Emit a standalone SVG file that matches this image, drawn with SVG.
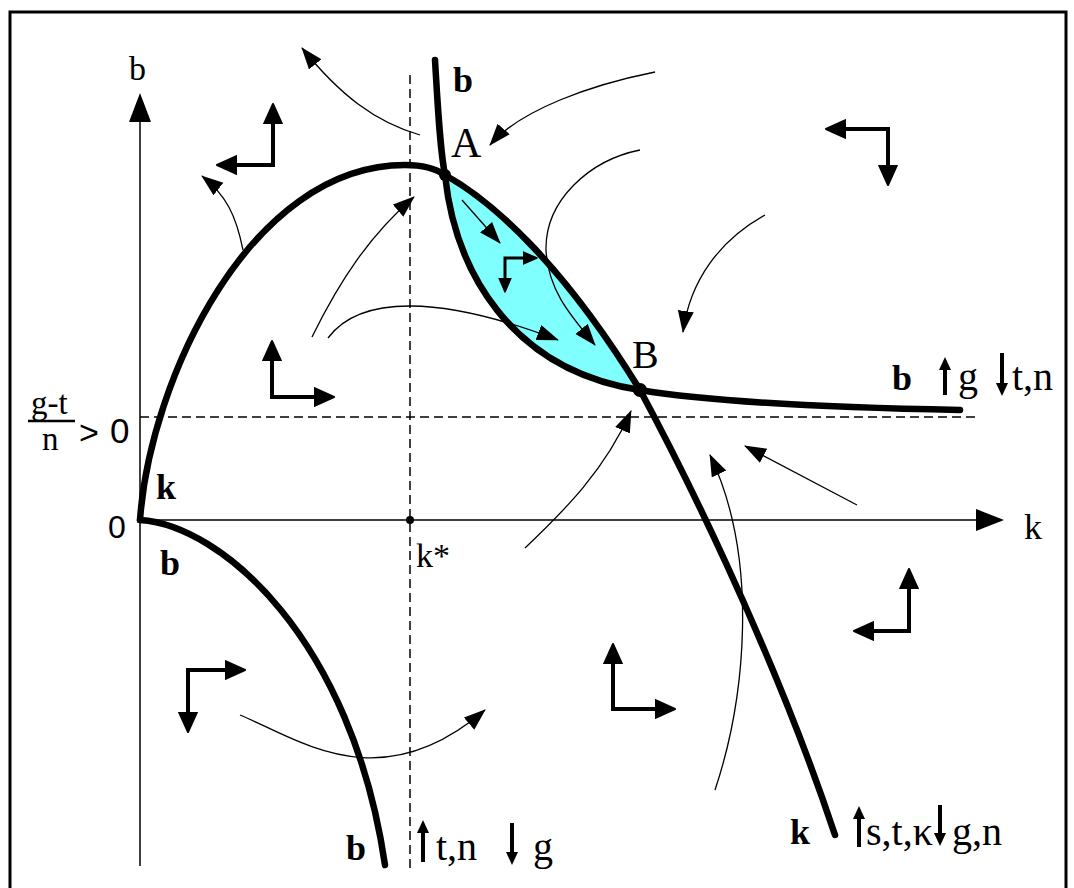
<svg xmlns="http://www.w3.org/2000/svg" width="1074" height="888" viewBox="0 0 1074 888">
<style>
.thick{fill:none;stroke:#000;stroke-width:6.5;stroke-linecap:round;stroke-linejoin:round}
.thin{fill:none;stroke:#000;stroke-width:1.3;marker-end:url(#ah)}
.step{fill:none;stroke:#000;stroke-width:4;stroke-linejoin:miter;marker-start:url(#sh);marker-end:url(#sh)}
.dash{fill:none;stroke:#000;stroke-width:1.5;stroke-dasharray:9 5}
.axis{fill:none;stroke:#000;stroke-width:1.5}
.la{fill:none;stroke:#000;stroke-width:4;marker-end:url(#lh)}
text{fill:#000}
</style>
<defs>
<marker id="ah" markerUnits="userSpaceOnUse" markerWidth="26" markerHeight="20" refX="21" refY="8" orient="auto"><path d="M0,0 L22,8 L0,16 Z" fill="#000"/></marker>
<marker id="sh" markerUnits="userSpaceOnUse" markerWidth="26" markerHeight="22" refX="1" refY="10" orient="auto-start-reverse"><path d="M0,1 L20,10 L0,19 Z" fill="#000" stroke="#000" stroke-width="2" stroke-linejoin="round"/></marker>
<marker id="sh2" markerUnits="userSpaceOnUse" markerWidth="20" markerHeight="18" refX="1" refY="7" orient="auto-start-reverse"><path d="M0,1 L14,7 L0,13 Z" fill="#000" stroke="#000" stroke-width="1.5" stroke-linejoin="round"/></marker>
<marker id="lh" markerUnits="userSpaceOnUse" markerWidth="16" markerHeight="16" refX="1" refY="6" orient="auto"><path d="M0,0 L13,6 L0,12 Z" fill="#000"/></marker>
</defs>
<rect x="10" y="12" width="1056" height="890" fill="#fff" stroke="#000" stroke-width="3"/>

<g id="axes">
<line class="axis" x1="140" y1="118" x2="140" y2="866"/>
<path d="M140,93 L129,122 L151,122 Z" fill="#000"/>
<line class="axis" x1="140" y1="520" x2="980" y2="520"/>
<path d="M1004,520 L976,509 L976,531 Z" fill="#000"/>
<line class="dash" x1="410" y1="75" x2="410" y2="872"/>
<line class="dash" x1="140" y1="417" x2="976" y2="417"/>
<circle cx="410" cy="520" r="4" fill="#000"/>
</g>

<g id="region">
<path d="M445,175 C490,200 560,260 640,390 C510,370 455,270 445,175 Z" fill="#80ffff"/>
</g>

<g id="curves">
<path class="thick" d="M140,520 C150,380 250,165 405,165 C420,165 435,168 445,175 C490,200 560,260 640,390 C675,455 770,640 835,835"/>
<path class="thick" d="M435,60 C438,110 440,150 445,175 C455,270 510,370 640,390 C700,400 800,407 960,410"/>
<path class="thick" d="M140,520 C222,525 352,640 385,865"/>
<circle cx="445" cy="175" r="6" fill="#000"/>
<circle cx="640" cy="390" r="7" fill="#000"/>
</g>

<g id="flows">
<path class="thin" d="M420,135 C375,122 340,95 302,48"/>
<path class="thin" d="M655,72 C590,85 520,110 490,145"/>
<path class="thin" d="M243,250 C236,215 226,195 202,176"/>
<path class="thin" d="M312,337 C340,280 370,235 414,197"/>
<path class="thin" d="M328,338 C360,295 440,295 558,340"/>
<path class="thin" d="M640,150 C590,160 545,200 546,250 C548,290 570,315 595,345"/>
<path class="thin" d="M462,200 L500,243"/>
<path class="thin" d="M765,215 C720,240 690,280 683,332"/>
<path class="thin" d="M525,548 C565,510 605,470 631,411"/>
<path class="thin" d="M715,790 C745,700 760,560 710,455"/>
<path class="thin" d="M857,505 L745,446"/>
<path class="thin" d="M240,715 C300,740 380,800 485,710"/>
</g>

<g id="steps">
<path class="step" d="M273,123 L273,165 L236,165"/>
<path class="step" d="M272,360 L272,397 L315,397"/>
<path class="step" d="M845,129 L888,129 L888,166"/>
<path class="step" d="M226,670 L188,670 L188,713"/>
<path class="step" d="M613,663 L613,709 L656,709"/>
<path class="step" d="M909,588 L909,631 L873,631"/>
<path d="M524,258 L505,258 L505,279" fill="none" stroke="#000" stroke-width="3" marker-start="url(#sh2)" marker-end="url(#sh2)"/>
</g>

<g id="labels" font-family="'Liberation Serif', 'Times New Roman', serif">
<text x="129" y="80" font-size="34">b</text>
<text x="1024" y="539" font-size="36">k</text>
<text x="108" y="538" font-size="32" font-family="'Liberation Sans', Arial, sans-serif">0</text>
<text x="31" y="414" font-size="33">g-t</text>
<line x1="28" y1="421" x2="75" y2="421" stroke="#000" stroke-width="2.5"/>
<text x="42" y="450" font-size="33">n</text>
<text x="79" y="444" font-size="34" font-family="'Liberation Sans', Arial, sans-serif">&gt;</text>
<text x="110" y="443" font-size="35" font-family="'Liberation Sans', Arial, sans-serif">0</text>
<text x="156" y="499" font-size="36" font-weight="bold">k</text>
<text x="160" y="575" font-size="36" font-weight="bold">b</text>
<text x="416" y="567" font-size="34">k*</text>
<text x="451" y="157" font-size="42">A</text>
<text x="453" y="92" font-size="36" font-weight="bold">b</text>
<text x="632" y="368" font-size="40">B</text>
<text x="892" y="390" font-size="36" font-weight="bold">b</text>
<line class="la" x1="945" y1="395" x2="945" y2="369"/>
<text x="958" y="390" font-size="40">g</text>
<line class="la" x1="1002" y1="353" x2="1002" y2="384"/>
<text x="1012" y="390" font-size="40">t,n</text>
<text x="346" y="860" font-size="36" font-weight="bold">b</text>
<line class="la" x1="423" y1="862" x2="423" y2="832"/>
<text x="436" y="860" font-size="40">t,n</text>
<line class="la" x1="512" y1="823" x2="512" y2="853"/>
<text x="533" y="860" font-size="40">g</text>
<text x="790" y="844" font-size="36" font-weight="bold">k</text>
<line class="la" x1="859" y1="847" x2="859" y2="818"/>
<text x="866" y="845" font-size="40">s,t,κ</text>
<line class="la" x1="940" y1="805" x2="940" y2="834"/>
<text x="952" y="845" font-size="40">g,n</text>
</g>
</svg>
